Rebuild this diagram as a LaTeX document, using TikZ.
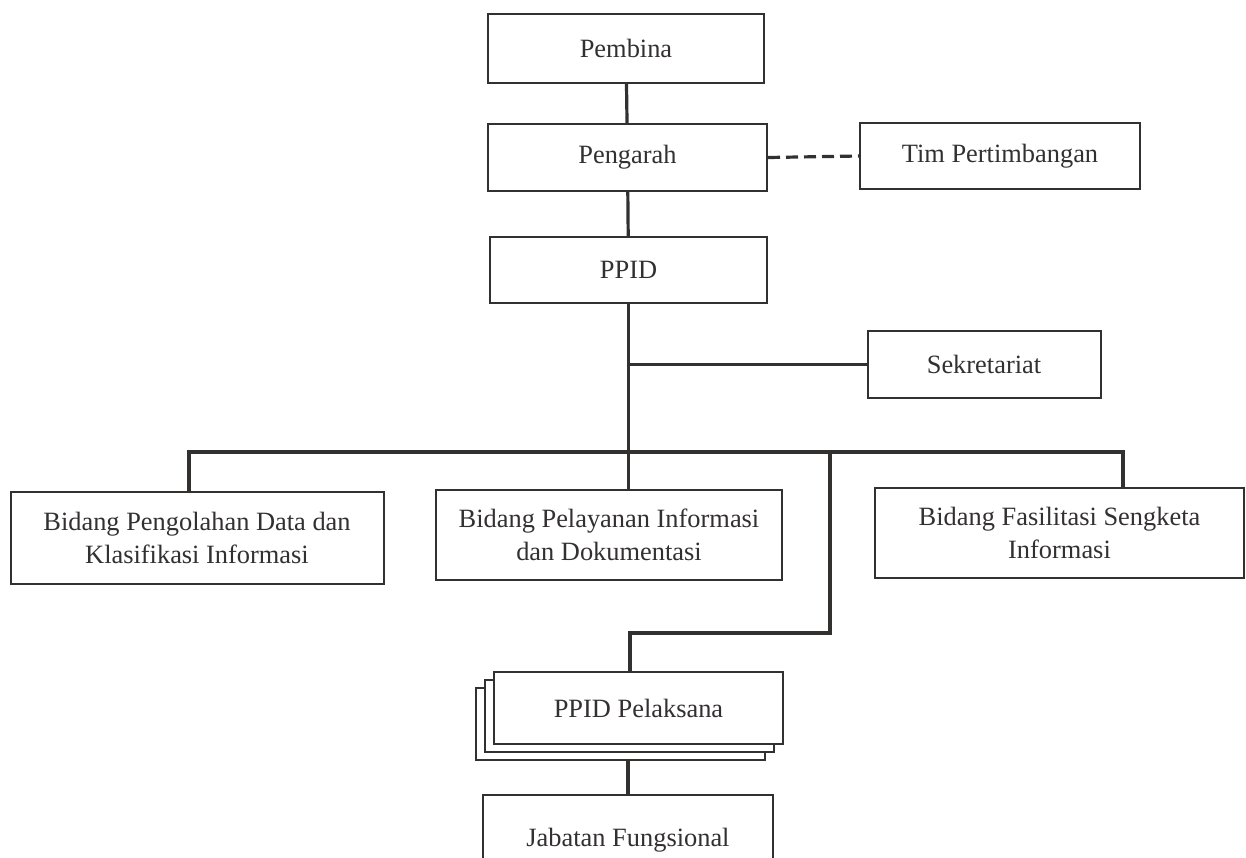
\documentclass[tikz,border=0pt]{standalone}
\usepackage{fontspec}
\setmainfont{Liberation Serif}
\usetikzlibrary{positioning, shadows, backgrounds}
\definecolor{ChartInk}{HTML}{333030}
\definecolor{ChartPaper}{HTML}{ffffff}
\colorlet{BoxLine}{ChartInk}
\colorlet{LinkLine}{ChartInk}

\begin{document}
\begin{tikzpicture}[x=0.5pt, y=-0.5pt,
    unitbox/.style={draw=BoxLine, line width=1pt, fill=ChartPaper, text=ChartInk,
        font=\fontsize{13.2}{16.5}\selectfont, align=center, inner sep=0pt},
    link/.style={draw=LinkLine, line width=1.6pt},
    ]

    % Page
    \useasboundingbox (0,0) rectangle (1246,857);
    \clip (0,0) rectangle (1246,857);

    % Top units
    \node[unitbox, minimum width=138pt, minimum height=34.5pt] (pembina) at (626,48.5) {Pembina};
    \node[unitbox, minimum width=139.5pt, minimum height=33.5pt] (pengarah) at (627.5,157.5) {Pengarah};
    \node[unitbox, minimum width=140pt, minimum height=33pt] (tim) at (1000,156) {Tim Pertimbangan};
    \node[unitbox, minimum width=138.5pt, minimum height=33pt] (ppid) at (628.5,270) {PPID};
    \node[unitbox, minimum width=116.5pt, minimum height=33.5pt] (sekretariat) at (984,364.5) {Sekretariat};

    % Bidang
    \node[unitbox, minimum width=186.5pt, minimum height=46pt] (bidA) at (197,538)
        {Bidang Pengolahan Data dan\\ Klasifikasi Informasi};
    \node[unitbox, minimum width=173pt, minimum height=45pt] (bidB) at (609,535)
        {Bidang Pelayanan Informasi\\ dan Dokumentasi};
    \node[unitbox, minimum width=184.5pt, minimum height=45pt] (bidC) at (1059.5,533)
        {Bidang Fasilitasi Sengketa\\ Informasi};

    % Pelaksana
    \node[unitbox, minimum width=144.5pt, minimum height=36pt,
        double copy shadow={shadow xshift=-4.5pt, shadow yshift=-4pt}] (pelaksana) at (638.5,708) {PPID Pelaksana};
    \node[unitbox, minimum width=145pt, minimum height=45pt] (jabatan) at (628,840) {Jabatan Fungsional};

    \coordinate (busL) at (189,452);
    \coordinate (busR) at (1123,452);
    \coordinate (branch) at (830,452);
    \coordinate (elbow) at (630,633);

    % Links
    \begin{scope}[on background layer]
        \draw[link] (pembina) -- (pengarah);
        \draw[link] (pengarah) -- (ppid);
        \draw[link, dash pattern=on 6pt off 3pt] (pengarah.east) -- (tim.west);
        \draw[link] (ppid.south) -- (ppid.south |- bidB.north);
        \draw[link] (ppid.south |- sekretariat.west) -- (sekretariat.west);
        \draw[link] (busL |- bidA.north) -- (busL) -- (busR) -- (busR |- bidC.north);
        \draw[link] (branch) |- (elbow) -- (elbow |- pelaksana.north);
        \draw[link] (jabatan.north) -- (jabatan.north |- pelaksana.center);
    \end{scope}

\end{tikzpicture}
\end{document}
